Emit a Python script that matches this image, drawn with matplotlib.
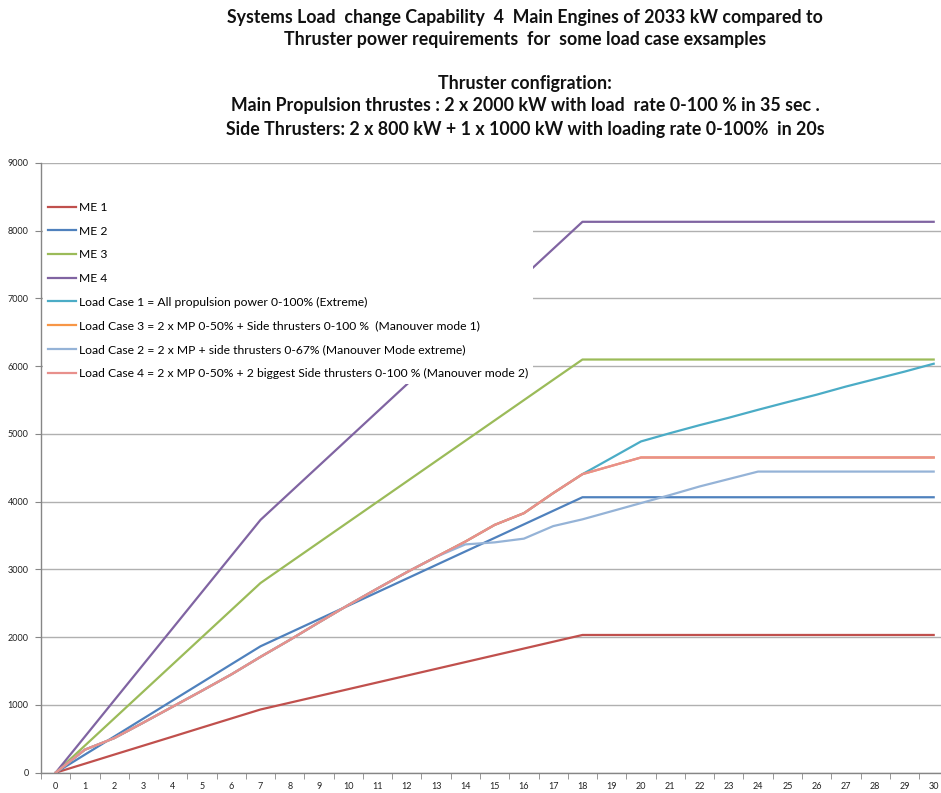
import matplotlib
matplotlib.use("Agg")
import matplotlib.pyplot as plt
from matplotlib.ticker import MultipleLocator

plt.rcParams['font.family'] = ['Lato', 'DejaVu Sans']

seconds = list(range(0, 31))
x_labels = [str(s) for s in seconds]

me1 = [0, 133, 267, 400, 533, 667, 800, 933, 1033, 1133, 1233, 1333, 1433, 1533, 1633, 1733,
       1833, 1933, 2033, 2033, 2033, 2033, 2033, 2033, 2033, 2033, 2033, 2033, 2033, 2033, 2033]
me2 = [0, 267, 533, 800, 1067, 1333, 1600, 1866, 2066, 2266, 2466, 2666, 2866, 3066, 3266, 3466,
       3666, 3866, 4066, 4066, 4066, 4066, 4066, 4066, 4066, 4066, 4066, 4066, 4066, 4066, 4066]
me3 = [0, 400, 800, 1200, 1600, 2000, 2400, 2800, 3100, 3400, 3700, 4000, 4300, 4600, 4900, 5200,
       5500, 5800, 6099, 6099, 6099, 6099, 6099, 6099, 6099, 6099, 6099, 6099, 6099, 6099, 6099]
me4 = [0, 533, 1067, 1600, 2133, 2667, 3200, 3732, 4132, 4532, 4932, 5332, 5732, 6132, 6532, 6932,
       7332, 7732, 8132, 8132, 8132, 8132, 8132, 8132, 8132, 8132, 8132, 8132, 8132, 8132, 8132]
lc1 = [0, 340, 510, 740, 975, 1210, 1450, 1710, 1960, 2220, 2475, 2720, 2960, 3186, 3412, 3658,
       3831, 4127, 4407, 4648, 4890, 5013, 5130, 5240, 5357, 5470, 5580, 5700, 5810, 5920, 6037]
lc3 = [0, 340, 510, 740, 975, 1210, 1450, 1710, 1960, 2220, 2475, 2720, 2960, 3186, 3412, 3658,
       3831, 4127, 4407, 4530, 4653, 4653, 4653, 4653, 4653, 4653, 4653, 4653, 4653, 4653, 4653]
lc2 = [0, 340, 510, 740, 975, 1210, 1450, 1710, 1960, 2220, 2475, 2720, 2960, 3186, 3370, 3400,
       3455, 3640, 3740, 3860, 3980, 4100, 4225, 4335, 4445, 4445, 4445, 4445, 4445, 4445, 4445]
lc4 = [0, 340, 510, 740, 975, 1210, 1450, 1710, 1960, 2220, 2475, 2720, 2960, 3186, 3412, 3658,
       3831, 4127, 4407, 4530, 4653, 4653, 4653, 4653, 4653, 4653, 4653, 4653, 4653, 4653, 4653]

series_labels = [
    "ME 1",
    "ME 2",
    "ME 3",
    "ME 4",
    "Load Case 1 = All propulsion power 0-100% (Extreme)",
    "Load Case 3 = 2 x MP 0-50% + Side thrusters 0-100 %  (Manouver mode 1)",
    "Load Case 2 = 2 x MP + side thrusters 0-67% (Manouver Mode extreme)",
    "Load Case 4 = 2 x MP 0-50% + 2 biggest Side thrusters 0-100 % (Manouver mode 2)",
]
series_values = [me1, me2, me3, me4, lc1, lc3, lc2, lc4]
series_colors = ['#C0504D', '#4F81BD', '#9BBB59', '#8064A2', '#4BACC6', '#F79646', '#95B3D7', '#E8908C']

title_lines = [
    "Systems Load  change Capability  4  Main Engines of 2033 kW compared to",
    "Thruster power requirements  for  some load case exsamples",
    "Thruster configration:",
    "Main Propulsion thrustes : 2 x 2000 kW with load  rate 0-100 % in 35 sec .",
    "Side Thrusters: 2 x 800 kW + 1 x 1000 kW with loading rate 0-100%  in 20s",
]
title_y_px = [18, 40, 83, 106, 129]

W, H = 941, 793
fig = plt.figure(figsize=(W / 100, H / 100), dpi=100)
ax = fig.add_axes([41 / W, (H - 772.7) / H, 1 - 41 / W, (772.7 - 163) / H])

for vals, lab, col in zip(series_values, series_labels, series_colors):
    ax.plot(seconds, vals, color=col, lw=1.6, label=lab, solid_joinstyle='round')

ax.set_xlim(-0.5, 30.25)
ax.set_ylim(0, 9000)
ax.yaxis.set_major_locator(MultipleLocator(1000))
ax.set_xticks(seconds)
ax.set_xticklabels(x_labels)
ax.set_xticks([s + 0.5 for s in seconds[:-1]] + [-0.5], minor=True)
ax.tick_params(axis='x', which='major', length=0, labelsize=6.5, pad=7, colors='#222222')
ax.tick_params(axis='x', which='minor', length=4, color='#868686', direction='out')
ax.tick_params(axis='y', which='major', length=4, color='#868686', labelsize=6.5, pad=5, labelcolor='#222222')
ax.grid(axis='y', color='#b0b0b0', lw=1.0, zorder=0)
ax.set_axisbelow(True)
for s in ['top', 'right']:
    ax.spines[s].set_visible(False)
for s in ['left', 'bottom']:
    ax.spines[s].set_color('#868686')
    ax.spines[s].set_linewidth(1.0)

leg = ax.legend(loc='upper left', bbox_to_anchor=(43 / W, (H - 197) / H),
                bbox_transform=fig.transFigure, frameon=True, fontsize=8.7,
                handlelength=2.3, handletextpad=0.25, labelspacing=1.05,
                borderpad=0.4, borderaxespad=0)
leg.get_frame().set_facecolor('white')
leg.get_frame().set_edgecolor('none')
leg.get_frame().set_alpha(1)

for txt, ypx in zip(title_lines, title_y_px):
    fig.text(525 / W, 1 - ypx / H, txt, ha='center', va='center', fontsize=12.8,
             fontweight='bold', color='#111111')

fig.savefig("out.png", dpi=100, facecolor='white')
